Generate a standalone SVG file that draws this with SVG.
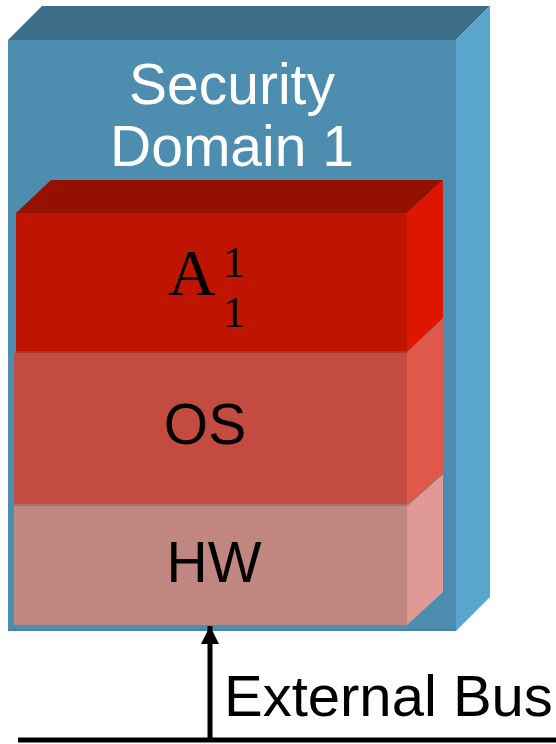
<svg xmlns="http://www.w3.org/2000/svg" width="556" height="744" viewBox="0 0 556 744">
<style>
.sans{font-family:"Liberation Sans",Arial,sans-serif;}
.serif{font-family:"Liberation Serif","Times New Roman",serif;}
.lbl{font-size:57px;text-anchor:middle;}
</style>
<defs>
<marker id="ah" viewBox="0 0 10 10" refX="10" refY="5" markerWidth="3.6" markerHeight="3.6" markerUnits="strokeWidth" orient="auto">
<path d="M0,0 L10,5 L0,10 Z" fill="#000"/>
</marker>
</defs>
<rect width="556" height="744" fill="#fff"/>
<g id="domain">
<polygon points="8,40 42,6 490,6 456,40" fill="#3D6E8A"/>
<polygon points="456,40 490,6 490,597 456,631" fill="#5AA5CC"/>
<rect x="8" y="40" width="448" height="591" fill="#4D8EB0"/>
<line x1="8" y1="630" x2="456" y2="630" stroke="#4785A8" stroke-width="2"/>
<text class="sans lbl" x="232" y="104" fill="#fff">Security</text>
<text class="sans lbl" x="232" y="166" fill="#fff">Domain 1</text>
</g>
<g id="hw">
<polygon points="407,505 443,473 443,592 407,625" fill="#DF9A95"/>
<rect x="14" y="505" width="393" height="120" fill="#C08680"/>
<line x1="14" y1="505" x2="407" y2="505" stroke="#A8706A" stroke-width="2"/>
<line x1="407" y1="505" x2="443" y2="473" stroke="#A07470" stroke-width="2"/>
<text class="sans lbl" x="214" y="582" fill="#000">HW</text>
</g>
<g id="os">
<polygon points="407,353 443,318 443,473 407,505" fill="#E05849"/>
<rect x="14" y="353" width="393" height="151" fill="#C44B3F"/>
<text class="sans lbl" x="205" y="444" fill="#000">OS</text>
</g>
<g id="app">
<polygon points="16,213 51,180 443,180 407,213" fill="#961000"/>
<polygon points="407,213 443,180 443,318 407,352" fill="#DE1600"/>
<rect x="16" y="213" width="391" height="139" fill="#BE1400"/>
<line x1="16" y1="352" x2="407" y2="352" stroke="#A8382C" stroke-width="2"/>
<text class="serif" x="168" y="295" font-size="66" fill="#000">A</text>
<text class="serif" x="223" y="277" font-size="44" fill="#000">1</text>
<text class="serif" x="223" y="327" font-size="44" fill="#000">1</text>
</g>
<g id="connectors">
<line x1="18" y1="740" x2="556" y2="740" stroke="#000" stroke-width="5"/>
<line x1="210" y1="740" x2="210" y2="626" stroke="#000" stroke-width="5" marker-end="url(#ah)"/>
</g>
<g id="bus-label">
<text class="sans" x="224" y="716" font-size="58" fill="#000">External Bus</text>
</g>
</svg>
